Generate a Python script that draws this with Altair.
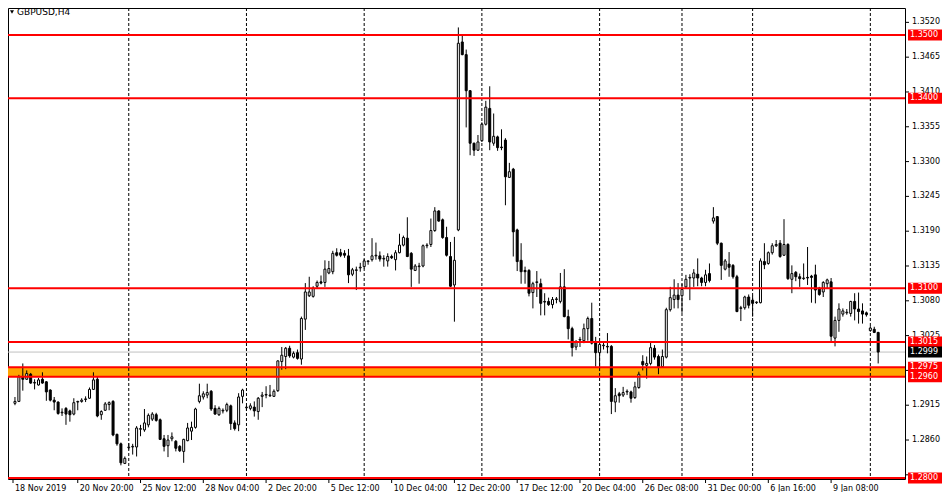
import altair as alt
import pandas as pd

# ---------------- data (GBPUSD H4 candles) ----------------
opens = [
    1.2918, 1.2921, 1.2959, 1.2956, 1.2964, 1.2950, 1.2947, 1.2956, 1.2952, 1.2939,
    1.2923, 1.2920, 1.2903, 1.2910, 1.2906, 1.2901, 1.2920, 1.2921, 1.2924, 1.2926,
    1.2940, 1.2956, 1.2900, 1.2907, 1.2916, 1.2921, 1.2869, 1.2854, 1.2823, 1.2848,
    1.2849, 1.2849, 1.2877, 1.2876, 1.2884, 1.2893, 1.2900, 1.2892, 1.2862, 1.2851,
    1.2862, 1.2858, 1.2850, 1.2842, 1.2859, 1.2874, 1.2880, 1.2921, 1.2928, 1.2931,
    1.2937, 1.2910, 1.2900, 1.2906, 1.2907, 1.2914, 1.2887, 1.2884, 1.2929, 1.2911,
    1.2910, 1.2912, 1.2905, 1.2929, 1.2931, 1.2930, 1.2929, 1.2938, 1.2984, 1.2992,
    1.3005, 1.2991, 1.2998, 1.2988, 1.3051, 1.3088, 1.3087, 1.3103, 1.3110, 1.3109,
    1.3124, 1.3126, 1.3156, 1.3156, 1.3155, 1.3151, 1.3122, 1.3128, 1.3132, 1.3134,
    1.3142, 1.3145, 1.3151, 1.3151, 1.3146, 1.3143, 1.3150, 1.3145, 1.3156, 1.3168,
    1.3179, 1.3155, 1.3128, 1.3134, 1.3135, 1.3167, 1.3169, 1.3191, 1.3222, 1.3208,
    1.3180, 1.3150, 1.3105, 1.3192, 1.3489, 1.3469, 1.3412, 1.3329, 1.3318, 1.3333,
    1.3359, 1.3384, 1.3329, 1.3339, 1.3323, 1.3334, 1.3275, 1.3288, 1.3192, 1.3144,
    1.3128, 1.3128, 1.3093, 1.3109, 1.3107, 1.3079, 1.3079, 1.3074, 1.3082, 1.3079,
    1.3102, 1.3055, 1.3036, 1.3007, 1.3018, 1.3017, 1.3036, 1.3052, 1.3014, 1.2998,
    1.3009, 1.3008, 1.3008, 1.2920, 1.2933, 1.2931, 1.2936, 1.2936, 1.2927, 1.2943,
    1.2984, 1.2978, 1.2981, 1.3005, 1.2992, 1.2976, 1.2991, 1.3066, 1.3082, 1.3089,
    1.3088, 1.3102, 1.3116, 1.3116, 1.3122, 1.3116, 1.3109, 1.3123, 1.3206, 1.3213,
    1.3171, 1.3130, 1.3138, 1.3136, 1.3118, 1.3068, 1.3069, 1.3086, 1.3081, 1.3077,
    1.3077, 1.3142, 1.3139, 1.3156, 1.3167, 1.3171, 1.3152, 1.3169, 1.3114, 1.3125,
    1.3118, 1.3115, 1.3117, 1.3119, 1.3121, 1.3100, 1.3094, 1.3107, 1.3110, 1.3021,
    1.3049, 1.3059, 1.3061, 1.3060, 1.3079, 1.3067, 1.3064, 1.3061, 1.3033, 1.3035,
    1.3030,
]
highs = [
    1.2928, 1.2963, 1.2981, 1.2970, 1.2966, 1.2956, 1.2958, 1.2967, 1.2953, 1.2940,
    1.2928, 1.2921, 1.2910, 1.2912, 1.2908, 1.2926, 1.2922, 1.2926, 1.2929, 1.2943,
    1.2967, 1.2960, 1.2907, 1.2920, 1.2921, 1.2923, 1.2870, 1.2856, 1.2834, 1.2855,
    1.2854, 1.2882, 1.2884, 1.2909, 1.2902, 1.2904, 1.2903, 1.2894, 1.2868, 1.2868,
    1.2872, 1.2860, 1.2852, 1.2862, 1.2887, 1.2889, 1.2911, 1.2949, 1.2937, 1.2949,
    1.2939, 1.2915, 1.2913, 1.2910, 1.2919, 1.2916, 1.2891, 1.2934, 1.2941, 1.2914,
    1.2918, 1.2921, 1.2928, 1.2936, 1.2945, 1.2947, 1.2940, 1.2986, 1.3007, 1.3007,
    1.3009, 1.3000, 1.3003, 1.3055, 1.3108, 1.3118, 1.3103, 1.3112, 1.3120, 1.3144,
    1.3143, 1.3159, 1.3163, 1.3162, 1.3160, 1.3162, 1.3132, 1.3134, 1.3140, 1.3146,
    1.3144, 1.3179, 1.3172, 1.3158, 1.3152, 1.3155, 1.3153, 1.3160, 1.3186, 1.3183,
    1.3212, 1.3157, 1.3138, 1.3140, 1.3169, 1.3171, 1.3210, 1.3228, 1.3223, 1.3210,
    1.3197, 1.3173, 1.3181, 1.3512, 1.3500, 1.3477, 1.3413, 1.3330, 1.3342, 1.3362,
    1.3396, 1.3419, 1.3376, 1.3341, 1.3351, 1.3337, 1.3298, 1.3290, 1.3194, 1.3171,
    1.3134, 1.3130, 1.3110, 1.3127, 1.3115, 1.3092, 1.3085, 1.3086, 1.3086, 1.3124,
    1.3130, 1.3066, 1.3039, 1.3018, 1.3023, 1.3044, 1.3055, 1.3077, 1.3023, 1.3013,
    1.3015, 1.3029, 1.3010, 1.2942, 1.2936, 1.2944, 1.2940, 1.2938, 1.2952, 1.2968,
    1.2994, 1.2992, 1.3014, 1.3010, 1.2995, 1.3003, 1.3069, 1.3102, 1.3114, 1.3108,
    1.3107, 1.3121, 1.3122, 1.3130, 1.3147, 1.3118, 1.3129, 1.3139, 1.3228, 1.3214,
    1.3172, 1.3146, 1.3157, 1.3138, 1.3121, 1.3072, 1.3088, 1.3090, 1.3088, 1.3079,
    1.3147, 1.3171, 1.3158, 1.3171, 1.3176, 1.3176, 1.3209, 1.3171, 1.3136, 1.3127,
    1.3123, 1.3139, 1.3165, 1.3121, 1.3137, 1.3102, 1.3111, 1.3115, 1.3116, 1.3055,
    1.3076, 1.3068, 1.3067, 1.3080, 1.3092, 1.3093, 1.3076, 1.3063, 1.3040, 1.3039,
    1.3031,
]
lows = [
    1.2915, 1.2920, 1.2938, 1.2955, 1.2949, 1.2940, 1.2946, 1.2949, 1.2922, 1.2921,
    1.2907, 1.2900, 1.2898, 1.2884, 1.2889, 1.2899, 1.2907, 1.2919, 1.2920, 1.2925,
    1.2939, 1.2896, 1.2892, 1.2906, 1.2907, 1.2866, 1.2851, 1.2820, 1.2822, 1.2845,
    1.2837, 1.2834, 1.2866, 1.2873, 1.2880, 1.2890, 1.2889, 1.2860, 1.2842, 1.2833,
    1.2858, 1.2842, 1.2841, 1.2824, 1.2858, 1.2860, 1.2878, 1.2918, 1.2924, 1.2926,
    1.2906, 1.2900, 1.2898, 1.2902, 1.2904, 1.2876, 1.2875, 1.2874, 1.2918, 1.2906,
    1.2907, 1.2897, 1.2892, 1.2912, 1.2926, 1.2928, 1.2928, 1.2936, 1.2971, 1.2972,
    1.2990, 1.2989, 1.2987, 1.2979, 1.3034, 1.3086, 1.3085, 1.3100, 1.3106, 1.3102,
    1.3122, 1.3122, 1.3150, 1.3149, 1.3148, 1.3108, 1.3119, 1.3097, 1.3126, 1.3131,
    1.3137, 1.3142, 1.3145, 1.3142, 1.3134, 1.3134, 1.3146, 1.3128, 1.3155, 1.3166,
    1.3149, 1.3102, 1.3127, 1.3107, 1.3133, 1.3163, 1.3165, 1.3189, 1.3205, 1.3178,
    1.3150, 1.3102, 1.3047, 1.3190, 1.3468, 1.3354, 1.3310, 1.3309, 1.3317, 1.3331,
    1.3357, 1.3318, 1.3325, 1.3317, 1.3318, 1.3231, 1.3274, 1.3150, 1.3127, 1.3107,
    1.3107, 1.3087, 1.3068, 1.3086, 1.3057, 1.3057, 1.3072, 1.3068, 1.3076, 1.3076,
    1.3054, 1.3019, 1.2992, 1.3002, 1.3007, 1.3013, 1.3017, 1.3011, 1.2976, 1.2973,
    1.3003, 1.2997, 1.2901, 1.2904, 1.2919, 1.2928, 1.2931, 1.2919, 1.2925, 1.2941,
    1.2970, 1.2957, 1.2978, 1.2987, 1.2964, 1.2975, 1.2989, 1.3063, 1.3068, 1.3068,
    1.3061, 1.3100, 1.3081, 1.3102, 1.3103, 1.3103, 1.3103, 1.3109, 1.3202, 1.3168,
    1.3113, 1.3128, 1.3118, 1.3115, 1.3062, 1.3048, 1.3066, 1.3068, 1.3055, 1.3075,
    1.3076, 1.3130, 1.3137, 1.3153, 1.3165, 1.3148, 1.3151, 1.3113, 1.3092, 1.3111,
    1.3102, 1.3113, 1.3105, 1.3077, 1.3076, 1.3088, 1.3086, 1.3100, 1.3014, 1.3008,
    1.3031, 1.3055, 1.3058, 1.3055, 1.3049, 1.3044, 1.3044, 1.3055, 1.3031, 1.3029,
    1.2981,
]
closes = [
    1.2921, 1.2960, 1.2956, 1.2965, 1.2950, 1.2951, 1.2955, 1.2950, 1.2936, 1.2923,
    1.2920, 1.2902, 1.2904, 1.2901, 1.2900, 1.2919, 1.2921, 1.2923, 1.2925, 1.2940,
    1.2955, 1.2898, 1.2905, 1.2917, 1.2919, 1.2868, 1.2854, 1.2824, 1.2831, 1.2849,
    1.2850, 1.2879, 1.2878, 1.2887, 1.2899, 1.2901, 1.2891, 1.2861, 1.2850, 1.2860,
    1.2865, 1.2847, 1.2843, 1.2861, 1.2879, 1.2880, 1.2909, 1.2930, 1.2933, 1.2935,
    1.2909, 1.2901, 1.2910, 1.2907, 1.2916, 1.2886, 1.2878, 1.2928, 1.2939, 1.2912,
    1.2914, 1.2906, 1.2926, 1.2931, 1.2932, 1.2931, 1.2937, 1.2985, 1.2994, 1.3005,
    1.2993, 1.2997, 1.2989, 1.3052, 1.3094, 1.3094, 1.3100, 1.3109, 1.3108, 1.3130,
    1.3131, 1.3155, 1.3152, 1.3152, 1.3152, 1.3121, 1.3129, 1.3129, 1.3133, 1.3143,
    1.3143, 1.3151, 1.3152, 1.3146, 1.3147, 1.3150, 1.3148, 1.3156, 1.3168, 1.3180,
    1.3150, 1.3130, 1.3135, 1.3135, 1.3167, 1.3168, 1.3191, 1.3222, 1.3206, 1.3180,
    1.3152, 1.3103, 1.3144, 1.3487, 1.3469, 1.3412, 1.3329, 1.3318, 1.3331, 1.3359,
    1.3386, 1.3331, 1.3340, 1.3322, 1.3322, 1.3276, 1.3284, 1.3189, 1.3142, 1.3126,
    1.3126, 1.3092, 1.3107, 1.3110, 1.3076, 1.3078, 1.3074, 1.3082, 1.3083, 1.3102,
    1.3055, 1.3036, 1.3006, 1.3015, 1.3019, 1.3036, 1.3052, 1.3013, 1.2998, 1.3011,
    1.3010, 1.3007, 1.2921, 1.2930, 1.2930, 1.2935, 1.2937, 1.2926, 1.2944, 1.2964,
    1.2979, 1.2981, 1.3006, 1.2991, 1.2976, 1.2992, 1.3066, 1.3085, 1.3089, 1.3082,
    1.3098, 1.3114, 1.3117, 1.3124, 1.3116, 1.3109, 1.3121, 1.3112, 1.3211, 1.3171,
    1.3136, 1.3143, 1.3133, 1.3118, 1.3063, 1.3069, 1.3086, 1.3073, 1.3076, 1.3078,
    1.3143, 1.3137, 1.3156, 1.3167, 1.3169, 1.3150, 1.3169, 1.3115, 1.3123, 1.3118,
    1.3115, 1.3116, 1.3116, 1.3117, 1.3097, 1.3090, 1.3109, 1.3113, 1.3024, 1.3049,
    1.3067, 1.3064, 1.3062, 1.3079, 1.3067, 1.3063, 1.3059, 1.3058, 1.3037, 1.3030,
    1.2999,
]

level_prices = [1.3500, 1.3400, 1.3100, 1.3015, 1.2975, 1.2960, 1.2800]
level_texts = ["1.3500", "1.3400", "1.3100", "1.3015", "1.2975", "1.2960", "1.2800"]
zone_top = 1.2975
zone_bottom = 1.2960
bid_price = 1.2999
bid_text = "1.2999"

# price-scale ticks; the labels of 1.2970 and 1.2805 sit fully under price tags
y_ticks = [1.3520, 1.3465, 1.3410, 1.3355, 1.3300, 1.3245, 1.3190, 1.3135,
           1.3080, 1.3025, 1.2970, 1.2915, 1.2860, 1.2805]
y_label_values = [1.3520, 1.3465, 1.3410, 1.3355, 1.3300, 1.3245, 1.3190,
                  1.3135, 1.3080, 1.3025, 1.2915, 1.2860]
y_label_texts = ["1.3520", "1.3465", "1.3410", "1.3355", "1.3300", "1.3245",
                 "1.3190", "1.3135", "1.3080", "1.3025", "1.2915", "1.2860"]
x_label_bars = [0.5, 17, 33, 49, 65, 81, 97, 113, 129, 145, 161, 177, 193, 209]
x_label_texts = ["18 Nov 2019", "20 Nov 20:00", "25 Nov 12:00", "28 Nov 04:00",
                 "2 Dec 20:00", "5 Dec 12:00", "10 Dec 04:00", "12 Dec 20:00",
                 "17 Dec 12:00", "20 Dec 04:00", "26 Dec 08:00", "31 Dec 00:00",
                 "6 Jan 16:00", "9 Jan 08:00"]
week_start_bars = [30, 60, 90, 120, 150, 171, 189, 219]
symbol_title = "GBPUSD,H4"

# ---------------- layout ----------------
W = 897
H = 471
FONT = "DejaVu Sans"

candles = pd.DataFrame({
    "i": list(range(1, len(opens) + 1)),
    "o": opens, "h": highs, "l": lows, "c": closes,
})
levels = pd.DataFrame({"p": level_prices, "t": level_texts})
zone = pd.DataFrame({"top": [zone_top], "bottom": [zone_bottom]})
bid = pd.DataFrame({"p": [bid_price], "t": [bid_text]})
weeks = pd.DataFrame({"i": week_start_bars})
ytk = pd.DataFrame({"p": y_ticks})
ylb = pd.DataFrame({"p": y_label_values, "t": y_label_texts})
xt = pd.DataFrame({"i": x_label_bars, "t": x_label_texts})
one = pd.DataFrame({"t": [symbol_title]})

xs = alt.Scale(domain=[0.5, 226.56], nice=False, zero=False)
ys = alt.Scale(domain=[1.27984, 1.35427], nice=False, zero=False)


def X(field):
    return alt.X(field, scale=xs, axis=None)


def Y(field):
    return alt.Y(field, scale=ys, axis=None)


zone_layer = alt.Chart(zone).mark_rect(color="#FFA500").encode(
    x=alt.value(0), x2=alt.value(W), y=Y("top:Q"), y2="bottom:Q")

grid_layer = alt.Chart(weeks).mark_rule(color="black", strokeWidth=1,
                                        strokeDash=[3, 2]).encode(
    x=X("i:Q"), y=alt.value(0), y2=alt.value(H))

bid_layer = alt.Chart(bid).mark_rule(color="#C0C0C0", strokeWidth=1).encode(
    y=Y("p:Q"), x=alt.value(0), x2=alt.value(W))

wick_layer = alt.Chart(candles).mark_rule(color="black", strokeWidth=1,
                                          clip=True).encode(
    x=X("i:Q"), y=Y("l:Q"), y2="h:Q")

body_layer = alt.Chart(candles).mark_bar(size=2, stroke="black",
                                         strokeWidth=1, clip=True).encode(
    x=X("i:Q"), y=Y("o:Q"), y2="c:Q",
    fill=alt.condition("datum.c >= datum.o", alt.value("white"),
                       alt.value("black")))

level_layer = alt.Chart(levels).mark_rule(color="#FF0000", strokeWidth=2).encode(
    y=Y("p:Q"), x=alt.value(0), x2=alt.value(W))

# right price scale
ytick_layer = alt.Chart(ytk).mark_rule(color="black", strokeWidth=1).encode(
    x=alt.value(W), x2=alt.value(W + 4), y=Y("p:Q"))
ylabel_layer = alt.Chart(ylb).mark_text(align="left", baseline="middle",
                                        font=FONT, fontSize=8,
                                        color="black").encode(
    x=alt.value(W + 7), y=Y("p:Q"), text="t:N")

# bottom time scale
xtick_layer = alt.Chart(xt).mark_rule(color="black", strokeWidth=1).encode(
    x=X("i:Q"), y=alt.value(H), y2=alt.value(H + 4))
xlabel_layer = alt.Chart(xt).mark_text(align="left", baseline="middle",
                                       font=FONT, fontSize=8, dx=2,
                                       color="black").encode(
    x=X("i:Q"), y=alt.value(H + 9.5), text="t:N")

# price tags
tag_box = alt.Chart(levels).mark_rule(color="#FF0000", strokeWidth=11).encode(
    x=alt.value(W + 3), x2=alt.value(W + 37), y=Y("p:Q"))
tag_text = alt.Chart(levels).mark_text(align="left", baseline="middle",
                                       font=FONT, fontSize=8,
                                       color="white").encode(
    x=alt.value(W + 5), y=Y("p:Q"), text="t:N")
bid_box = alt.Chart(bid).mark_rule(color="black", strokeWidth=11).encode(
    x=alt.value(W + 3), x2=alt.value(W + 37), y=Y("p:Q"))
bid_tag = alt.Chart(bid).mark_text(align="left", baseline="middle",
                                   font=FONT, fontSize=8,
                                   color="white").encode(
    x=alt.value(W + 5), y=Y("p:Q"), text="t:N")

title_tri = alt.Chart(one).mark_point(shape="triangle-down", filled=True,
                                      size=16, color="black",
                                      opacity=1).encode(
    x=alt.value(4), y=alt.value(4))
title_text = alt.Chart(one).mark_text(align="left", baseline="middle",
                                      font=FONT, fontSize=9,
                                      color="black").encode(
    x=alt.value(9), y=alt.value(4), text="t:N")

chart = alt.layer(
    zone_layer, grid_layer, bid_layer, wick_layer, body_layer, level_layer,
    ytick_layer, ylabel_layer, xtick_layer, xlabel_layer,
    tag_box, tag_text, bid_box, bid_tag, title_tri, title_text,
).properties(
    width=W, height=H,
    autosize=alt.AutoSizeParams(type="none"),
    padding={"left": 0, "top": 0, "right": 37, "bottom": 13},
    background="white",
).configure_view(
    stroke="black", strokeWidth=1, fill="white",
)

chart.save("out.html", embed_options={"renderer": "svg", "actions": False})
